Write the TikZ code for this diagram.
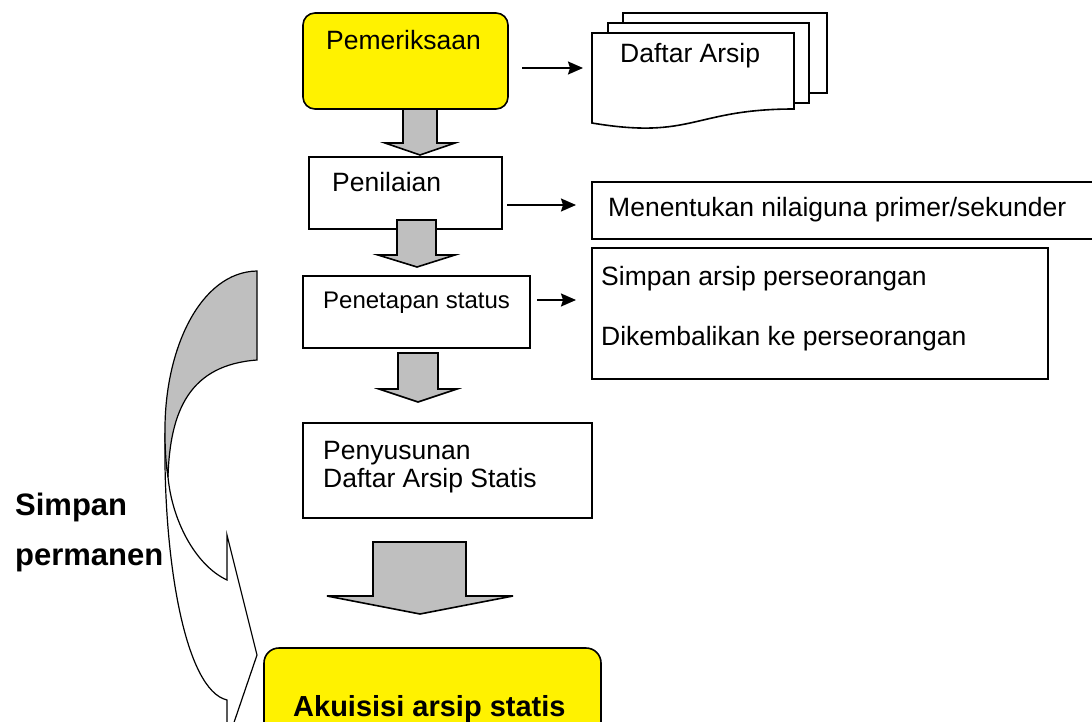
\documentclass[tikz,border=0pt]{standalone}
\usepackage{fontspec}
\setmainfont{Liberation Sans}
\usepackage{tikz}
\usetikzlibrary{arrows.meta}

\begin{document}
\begin{tikzpicture}[x=1pt,y=-1pt,
	box/.style={draw,line width=1.6pt,fill=white,inner sep=0pt},
	startbox/.style={box,fill=yellow,rounded corners=12pt},
	txt/.style={inner sep=0pt,anchor=base west,font=\fontsize{26.5}{28}\selectfont},
	smalltxt/.style={inner sep=0pt,anchor=base west,font=\fontsize{24}{26}\selectfont},
	boldtxt/.style={inner sep=0pt,anchor=base west,font=\fontsize{31}{33}\selectfont\bfseries},
	link/.style={line width=1.6pt,-{Stealth[length=15pt,width=13pt,inset=2pt]}},
	flow/.style={draw,line width=1.6pt,fill=gray!50,line join=miter},
	curvearrow/.style={draw,line width=1.2pt}]
	
	\useasboundingbox (0,0) rectangle (1092,722);
	\clip (0,0) rectangle (1092,722);
	
	% curved arrow on the left
	\draw[curvearrow,fill=white] (165,433) .. controls (163,560) and (185,690) .. (227,700) -- (227,743) -- (257,655) -- (227,535) -- (227,580) .. controls (195,565) and (172,520) .. (168,477) -- cycle;
	\draw[curvearrow,fill=gray!50] (257,271) .. controls (200,272) and (164,350) .. (165,433) .. controls (165,450) and (166,465) .. (168,477) .. controls (170,410) and (190,365) .. (257,360) -- cycle;
	\node[boldtxt] (simpan) at (15,515) {Simpan};
	\node[boldtxt] (permanen) at (15,565) {permanen};
	
	% main column
	\node[startbox,minimum width=205,minimum height=96] (pem) at (405.5,61) {};
	\node[box,minimum width=193,minimum height=72] (penilaian) at (405.5,193) {};
	\node[box,minimum width=227,minimum height=72] (penetapan) at (416.5,312) {};
	\node[box,minimum width=289,minimum height=95] (penyusunan) at (447.5,470.5) {};
	\node[startbox,rounded corners=15pt,minimum width=337,minimum height=112] (akuisisi) at (432.5,704) {};
	
	\node[txt] (pemtext) at (326,50) {Pemeriksaan};
	\node[txt] (penilaiantext) at (332,192) {Penilaian};
	\node[smalltxt] (penetapantext) at (323,308) {Penetapan status};
	\node[txt,anchor=north west,align=left] (penyusunantext) at (323,441) {Penyusunan\\Daftar Arsip Statis};
	\node[boldtxt,font=\fontsize{29}{31}\selectfont\bfseries] (akuisisitext) at (293,716) {Akuisisi arsip statis};
	
	% gray arrows between the steps
	\draw[flow] (403,109) -- (403,143) -- (385,143) -- (420,155) -- (455,143) -- (437,143) -- (437,109) -- cycle;
	\draw[flow] (397,220) -- (397,255) -- (378,255) -- (417,267) -- (455,255) -- (436,255) -- (436,220) -- cycle;
	\draw[flow] (398,353) -- (398,389) -- (379,389) -- (418,402) -- (457,389) -- (438,389) -- (438,353) -- cycle;
	\draw[flow] (373,542) -- (373,596) -- (327,596) -- (420,614) -- (513,596) -- (466,596) -- (466,542) -- cycle;
	
	% document stack
	\node[box,minimum width=204,minimum height=80] (backpage) at (725,53) {};
	\node[box,minimum width=201,minimum height=80] (midpage) at (708.5,63) {};
	\draw[box] (592,33) -- (794,33) -- (794,109) .. controls (693,109) and (693,140) .. (592,123) -- cycle;
	\node[txt] (daftartext) at (620,63) {Daftar Arsip};
	
	% right boxes
	\node[box,minimum width=508,minimum height=57] (nilai) at (846,210.5) {};
	\node[box,minimum width=456,minimum height=131] (status) at (820,313.5) {};
	\node[txt] (nilaitext) at (608,217) {Menentukan nilaiguna primer/sekunder};
	\node[txt] (statustexta) at (601,285) {Simpan arsip perseorangan};
	\node[txt] (statustextb) at (601,345) {Dikembalikan ke perseorangan};
	
	% thin arrows
	\coordinate (pemout) at (522,68);
	\coordinate (daftarin) at (583,68);
	\coordinate (penilaianout) at (507,205);
	\coordinate (nilaiin) at (576,205);
	\coordinate (penetapanout) at (537,300);
	\coordinate (statusin) at (576,300);
	\draw[link] (pemout) -- (daftarin);
	\draw[link] (penilaianout) -- (nilaiin);
	\draw[link] (penetapanout) -- (statusin);
	
\end{tikzpicture}
\end{document}
